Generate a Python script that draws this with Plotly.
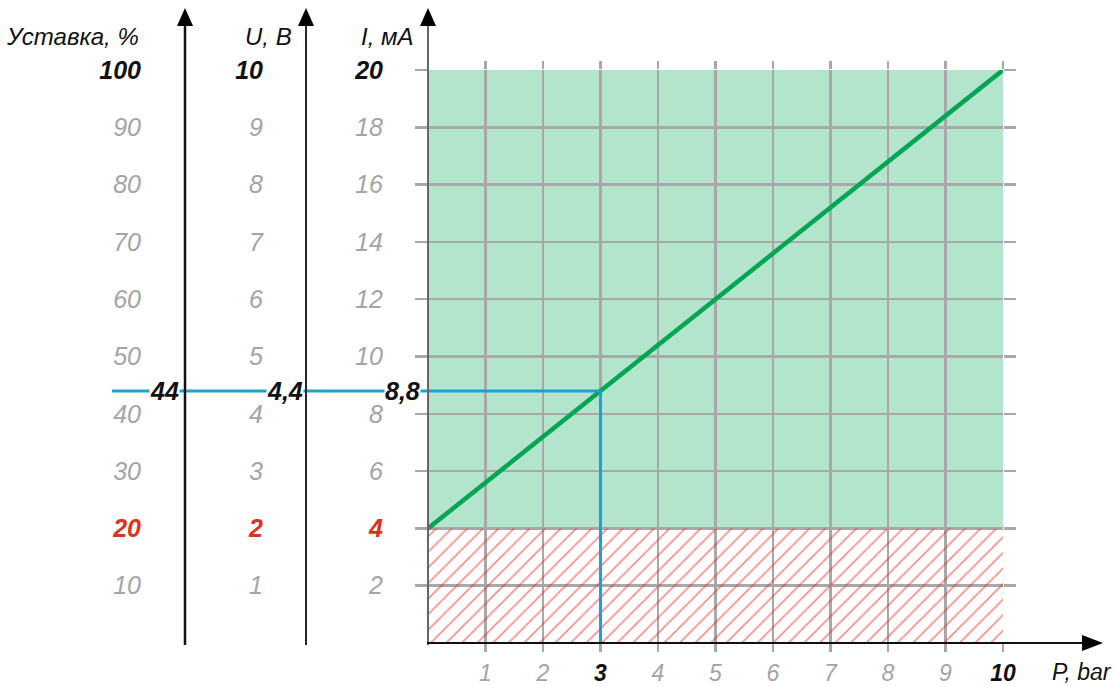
import plotly.graph_objects as go

# ---- data ----
p_ticks = [1, 2, 3, 4, 5, 6, 7, 8, 9, 10]
i_ticks = [2, 4, 6, 8, 10, 12, 14, 16, 18, 20]
u_ticks = [1, 2, 3, 4, 5, 6, 7, 8, 9, 10]
pct_ticks = [10, 20, 30, 40, 50, 60, 70, 80, 90, 100]
line_p = [0, 10]
line_i = [4, 20]
i_min_valid = 4
op_p = 3
op_i = 8.8
op_u = 4.4
op_pct = 44
op_u_label = "4,4"
op_pct_label = "44"
op_i_label = "8,8"

W, H = 1115, 686
FONT = "Liberation Sans, Arial, sans-serif"
GREY = "#a4a4a4"
GRID = "#a8a8a8"
RED = "#e0301e"
BLUE = "#1ba1d6"
GREEN = "#00a651"
FILL = "#b3e5cd"


def px(x):
    return x / W


def py(y):
    return 1 - y / H


XD = [px(428), px(1003)]
YD = [py(643), py(70)]


def lab(v, bold_black=(), red=()):
    s = str(v)
    if v in red:
        return f'<b><i><span style="color:{RED}">{s}</span></i></b>'
    if v in bold_black:
        return f'<b><i><span style="color:#111111">{s}</span></i></b>'
    return f"<i>{s}</i>"


fig = go.Figure()

# hatched (invalid) region below 4 mA
fig.add_trace(go.Scatter(
    x=[line_p[0], line_p[1], line_p[1], line_p[0], line_p[0]],
    y=[0, 0, i_min_valid, i_min_valid, 0],
    fill="toself", mode="none", fillcolor="rgba(0,0,0,0)",
    fillpattern=dict(shape="/", fgcolor="#e8200f", size=11, solidity=0.15),
    hoverinfo="skip", showlegend=False))

# characteristic line
fig.add_trace(go.Scatter(x=line_p, y=line_i, mode="lines",
                         line=dict(color=GREEN, width=4.5), showlegend=False))
# vertical blue line
fig.add_trace(go.Scatter(x=[op_p, op_p], y=[0, op_i], mode="lines",
                         line=dict(color=BLUE, width=3), showlegend=False))
# invisible points so the auxiliary axes are drawn
fig.add_trace(go.Scatter(x=[op_p], y=[op_u], yaxis="y2", mode="markers",
                         marker=dict(opacity=0), hoverinfo="skip", showlegend=False))
fig.add_trace(go.Scatter(x=[op_p], y=[op_pct], yaxis="y3", mode="markers",
                         marker=dict(opacity=0), hoverinfo="skip", showlegend=False))

shapes = []
# green valid zone
shapes.append(dict(type="rect", xref="x", yref="y", x0=line_p[0], x1=line_p[1],
                   y0=i_min_valid, y1=line_i[1], fillcolor=FILL, line_width=0, layer="below"))
# horizontal blue line into left margin
x_op_paper = XD[0] + (op_p - 0) / 10 * (XD[1] - XD[0])
shapes.append(dict(type="line", xref="paper", yref="y", x0=px(112), x1=x_op_paper,
                   y0=op_i, y1=op_i, line=dict(color=BLUE, width=3)))

# vertical axes lines + arrows
for xa, col, wd in [(185, "#111111", 2.5), (306, "#111111", 1.8), (428, "#666666", 2)]:
    shapes.append(dict(type="line", xref="paper", yref="paper",
                       x0=px(xa), x1=px(xa), y0=py(645), y1=py(24),
                       line=dict(color=col, width=wd)))
    shapes.append(dict(type="path", xref="paper", yref="paper",
                       path=f"M {px(xa)},{py(8)} L {px(xa-8)},{py(26)} L {px(xa+8)},{py(26)} Z",
                       fillcolor="#000000", line=dict(color="#000000", width=0)))
# horizontal axis
shapes.append(dict(type="line", xref="paper", yref="paper",
                   x0=px(427), x1=px(1086), y0=py(643), y1=py(643),
                   line=dict(color="#111111", width=2)))
shapes.append(dict(type="path", xref="paper", yref="paper",
                   path=f"M {px(1103)},{py(643)} L {px(1082)},{py(635)} L {px(1082)},{py(651)} Z",
                   fillcolor="#000000", line=dict(color="#000000", width=0)))

annotations = []
for text, xr in [("Уставка, %", 141), ("U, B", 294), ("I, мA", 415)]:
    annotations.append(dict(text=f"<i>{text}</i>", xref="paper", yref="paper",
                            x=px(xr), y=py(36), xanchor="right", yanchor="middle",
                            showarrow=False, font=dict(family=FONT, size=24, color="#111111")))
annotations.append(dict(text="<i>P, bar</i>", xref="paper", yref="paper",
                        x=px(1050), y=py(672), xanchor="left", yanchor="middle",
                        showarrow=False, font=dict(family=FONT, size=23, color="#111111")))
for text, xr in [(op_pct_label, 180), (op_u_label, 304), (op_i_label, 421)]:
    annotations.append(dict(text=f"<b><i>{text}</i></b>", xref="paper", yref="y",
                            x=px(xr), y=op_i, xanchor="right", yanchor="middle",
                            showarrow=False, bgcolor="white", borderpad=0,
                            font=dict(family=FONT, size=25, color="#111111")))

tickfont = dict(family=FONT, size=25, color=GREY)
xtickfont = dict(family=FONT, size=23, color=GREY)

fig.update_layout(
    width=W, height=H, margin=dict(l=0, r=0, t=0, b=0, autoexpand=False),
    paper_bgcolor="white", plot_bgcolor="rgba(0,0,0,0)",
    shapes=shapes, annotations=annotations, showlegend=False,
    xaxis=dict(domain=XD, range=[0, 10], tickvals=p_ticks,
               ticktext=[lab(v, bold_black=(op_p, 10)) for v in p_ticks],
               showgrid=True, gridcolor=GRID, gridwidth=2.5, zeroline=False,
               ticks="outside", ticklen=8, tickwidth=2.5, tickcolor=GRID, mirror="ticks",
               showline=False, tickfont=xtickfont, ticklabelstandoff=1,
               automargin=False, fixedrange=True),
    yaxis=dict(domain=YD, range=[0, 20], tickvals=i_ticks,
               ticktext=[lab(v, bold_black=(20,), red=(4,)) for v in i_ticks],
               showgrid=True, gridcolor=GRID, gridwidth=2.5, zeroline=False,
               ticks="outside", ticklen=12, tickwidth=2.5, tickcolor=GRID, mirror="ticks",
               showline=False, tickfont=tickfont, ticklabelstandoff=27,
               automargin=False, fixedrange=True),
    yaxis2=dict(overlaying="y", anchor="free", position=px(306), side="left",
                range=[0, 10], tickvals=u_ticks,
                ticktext=[lab(v, bold_black=(10,), red=(2,)) for v in u_ticks],
                showgrid=False, zeroline=False, showline=False, ticks="",
                tickfont=tickfont, ticklabelstandoff=43, automargin=False, fixedrange=True),
    yaxis3=dict(overlaying="y", anchor="free", position=px(185), side="left",
                range=[0, 100], tickvals=pct_ticks,
                ticktext=[lab(v, bold_black=(100,), red=(20,)) for v in pct_ticks],
                showgrid=False, zeroline=False, showline=False, ticks="",
                tickfont=tickfont, ticklabelstandoff=44, automargin=False, fixedrange=True),
)

fig.write_html("out.html", config={"displayModeBar": False, "staticPlot": True},
               post_script="document.body.style.margin='0';")
